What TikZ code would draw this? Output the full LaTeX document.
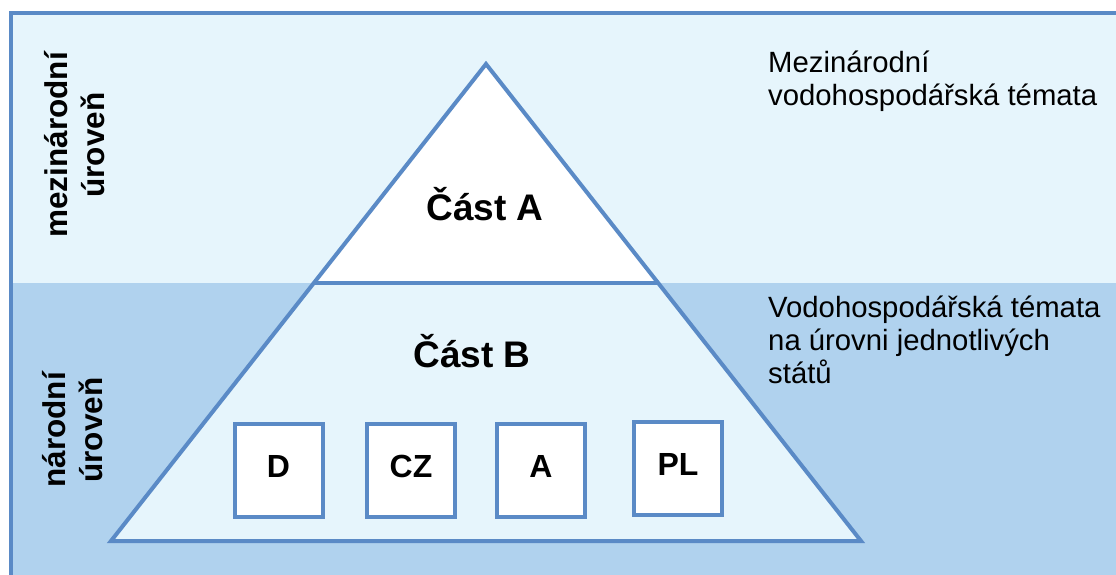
\documentclass[tikz,border=0pt]{standalone}
\usepackage{fontspec}
\setmainfont{Liberation Sans}
\usetikzlibrary{calc}
\definecolor{edge}{HTML}{5A8AC6}
\definecolor{pale}{HTML}{E6F5FC}
\definecolor{mid}{HTML}{B0D2EE}
\begin{document}
\begin{tikzpicture}[x=1pt,y=-1pt,
  outline/.style={draw=edge,line width=4pt},
  boldtxt/.style={font=\bfseries\fontsize{#1}{40}\selectfont,inner sep=0pt},
  sidetxt/.style={font=\bfseries\fontsize{31.5}{37}\selectfont,rotate=90,align=center,inner sep=0pt},
  notetxt/.style={font=\fontsize{29.3}{33}\selectfont,align=left,anchor=base west,inner sep=0pt},
  statebox/.style={outline,fill=white,minimum width=88pt,minimum height=93pt,inner sep=0pt}]
\useasboundingbox (0,0) rectangle (1116,575);
% background bands and frame
\begin{scope}
  \clip (0,0) rectangle (1116,575);
  \fill[pale] (11,13) rectangle (1130,283);
  \fill[mid] (11,283) rectangle (1130,590);
  \draw[edge,line width=4pt] (11,590) -- (11,13) -- (1130,13);
\end{scope}
% pyramid
\coordinate (apex) at (486,64);
\coordinate (bl) at (111,541);
\coordinate (br) at (861,541);
\coordinate (dl) at ($(apex)!0.4591!(bl)$);
\coordinate (dr) at ($(apex)!0.4591!(br)$);
\fill[white] (apex) -- (dl) -- (dr) -- cycle;
\fill[pale] (dl) -- (bl) -- (br) -- (dr) -- cycle;
\draw[outline,line join=miter] (apex) -- (bl) -- (br) -- cycle;
\draw[outline] (dl) -- (dr);
% parts
\node[boldtxt=37,anchor=base] (partA) at (485,220) {Část A};
\node[boldtxt=37,anchor=base] (partB) at (472,367) {Část B};
% state boxes
\node[statebox] (bD) at (278.5,470) {};
\node[statebox] (bCZ) at (411,470) {};
\node[statebox] (bA) at (541,470) {};
\node[statebox] (bPL) at (678,468) {};
\node[boldtxt=32,anchor=base] (tD) at (bD.center |- 0,477) {D};
\node[boldtxt=32,anchor=base] (tCZ) at (bCZ.center |- 0,477) {CZ};
\node[boldtxt=32,anchor=base] (tA) at (bA.center |- 0,477) {A};
\node[boldtxt=32,anchor=base] (tPL) at (bPL.center |- 0,475) {PL};
% side labels
\node[sidetxt] (intl) at (75,145) {mezinárodní\\úroveň};
\node[sidetxt] (natl) at (73,430) {národní\\úroveň};
% notes (anchor is the baseline of the last line)
\node[notetxt] (noteA) at (768,106) {Mezinárodní\\vodohospodářská témata};
\node[notetxt] (noteB) at (768,383) {Vodohospodářská témata\\na úrovni jednotlivých\\států};
\end{tikzpicture}
\end{document}
